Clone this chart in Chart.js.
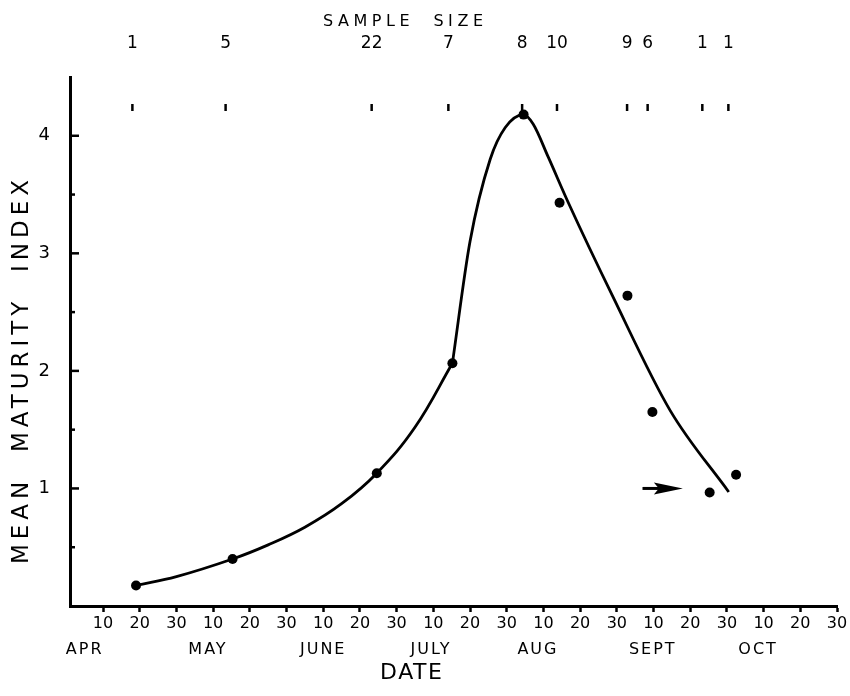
<!DOCTYPE html>
<html><head><meta charset="utf-8">
<script src="https://cdn.jsdelivr.net/npm/chart.js@4/dist/chart.umd.min.js"></script>
<style>html,body{margin:0;padding:0;background:#fff}#c{display:block}</style>
</head><body>
<canvas id="c" width="850" height="696"></canvas>
<script>
// x values are days counted with 30-day months from 1 April (Apr 10 = 10, May 10 = 40, ... Oct 30 = 210)
const sampleDates = [19, 45.3, 84.6, 105.2, 124.6, 134.4, 152.9, 159.7, 175.3, 182.5];
const meanIndex   = [0.175, 0.40, 1.13, 2.065, 4.18, 3.43, 2.64, 1.65, 0.966, 1.116];
const sampleSizes = ['1', '5', '22', '7', '8', '10', '9', '6', '1', '1'];
const sampleTickDates = [18.0, 43.4, 83.2, 104.1, 124.2, 133.7, 152.8, 158.4, 173.3, 180.4];

// fitted curve (two pieces, with a kink at the July point)
const riseX = [19, 30, 45.3, 55, 65, 75, 84.6, 95, 105.2];
const riseY = [0.175, 0.25, 0.40, 0.52, 0.67, 0.87, 1.13, 1.52, 2.065];
const fallX = [105.2, 110, 115.5, 119.6, 124.6, 127.2, 131.3, 136.8, 148.8, 164.6, 180.5];
const fallY = [2.065, 3.1, 3.8, 4.07, 4.18, 4.1, 3.82, 3.43, 2.64, 1.66, 0.97];

const xTickValues = [10,20,30,40,50,60,70,80,90,100,110,120,130,140,150,160,170,180,190,200,210];
const xTickLabels = ['10','20','30','10','20','30','10','20','30','10','20','30','10','20','30','10','20','30','10','20','30'];
const months = ['APR', 'MAY', 'JUNE', 'JULY', 'AUG', 'SEPT', 'OCT'];
const monthCenters = [5, 38.6, 70, 99.4, 128.5, 159.8, 188.5];
const yTickValues = [0.5, 1, 1.5, 2, 2.5, 3, 3.5, 4];
const yTickLabels = ['', '1', '', '2', '', '3', '', '4'];
const arrowX = [157, 168];
const arrowY = [1.0, 1.0];

const FONT = '"DejaVu Sans", sans-serif';

function fitText(ctx, text, x, y, width) {
  ctx.letterSpacing = '0px';
  const w = ctx.measureText(text).width;
  const n = text.length;
  const ls = n > 1 ? (width - w) / (n - 1) : 0;
  ctx.letterSpacing = ls + 'px';
  ctx.textAlign = 'left';
  ctx.fillText(text, x - width / 2, y);
  ctx.letterSpacing = '0px';
}

const decor = {
  id: 'decor',
  afterDraw(chart) {
    const ctx = chart.ctx;
    const xs = chart.scales.x, ys = chart.scales.y;
    const area = chart.chartArea;
    ctx.save();
    ctx.strokeStyle = '#000';
    ctx.fillStyle = '#000';
    // inward y ticks
    ctx.lineWidth = 2.5;
    yTickValues.forEach((v, i) => {
      const py = ys.getPixelForValue(v);
      const len = yTickLabels[i] ? 9 : 5;
      ctx.beginPath();
      ctx.moveTo(area.left, py);
      ctx.lineTo(area.left + len, py);
      ctx.stroke();
    });
    // sample size ticks and labels
    ctx.font = '17px ' + FONT;
    ctx.textAlign = 'center';
    ctx.textBaseline = 'middle';
    sampleTickDates.forEach((d, i) => {
      const px = xs.getPixelForValue(d);
      ctx.beginPath();
      ctx.moveTo(px, 104);
      ctx.lineTo(px, 111);
      ctx.stroke();
      ctx.fillText(sampleSizes[i], px, 44);
    });
    ctx.font = '16px ' + FONT;
    ctx.textBaseline = 'middle';
    fitText(ctx, 'SAMPLE  SIZE', 403, 22, 160);
    // month labels
    ctx.font = '16px ' + FONT;
    months.forEach((m, i) => {
      const px = xs.getPixelForValue(monthCenters[i]);
      ctx.letterSpacing = '2px';
      ctx.textAlign = 'center';
      ctx.fillText(m, px, 650);
    });
    ctx.letterSpacing = '0px';
    // x title
    ctx.font = '22px ' + FONT;
    fitText(ctx, 'DATE', 411, 673, 62);
    // y title
    ctx.save();
    ctx.translate(22, 372);
    ctx.rotate(-Math.PI / 2);
    ctx.font = '23px ' + FONT;
    fitText(ctx, 'MEAN  MATURITY  INDEX', 0, 0, 384);
    ctx.restore();
    // arrow
    const ax0 = xs.getPixelForValue(arrowX[0]);
    const ax1 = xs.getPixelForValue(arrowX[1]);
    const ay = ys.getPixelForValue(arrowY[0]);
    ctx.lineWidth = 3;
    ctx.beginPath();
    ctx.moveTo(ax0, ay);
    ctx.lineTo(ax1 - 20, ay);
    ctx.stroke();
    ctx.beginPath();
    ctx.moveTo(ax1, ay);
    ctx.lineTo(ax1 - 29, ay - 6);
    ctx.lineTo(ax1 - 24, ay);
    ctx.lineTo(ax1 - 29, ay + 6);
    ctx.closePath();
    ctx.fill();
    ctx.restore();
  }
};

new Chart(document.getElementById('c'), {
  type: 'line',
  data: {
    datasets: [
      {
        label: 'Mean maturity index',
        data: sampleDates.map((d, i) => ({ x: d, y: meanIndex[i] })),
        showLine: false,
        pointRadius: 5,
        pointBackgroundColor: '#000',
        pointBorderColor: '#000',
        pointBorderWidth: 0,
        order: 0
      },
      {
        label: 'Curve (rise)',
        data: riseX.map((d, i) => ({ x: d, y: riseY[i] })),
        borderColor: '#000',
        borderWidth: 2.8,
        pointRadius: 0,
        tension: 0.4,
        fill: false,
        order: 1
      },
      {
        label: 'Curve (fall)',
        data: fallX.map((d, i) => ({ x: d, y: fallY[i] })),
        borderColor: '#000',
        borderWidth: 2.8,
        pointRadius: 0,
        cubicInterpolationMode: 'monotone',
        fill: false,
        order: 1
      }
    ]
  },
  options: {
    responsive: false,
    animation: false,
    layout: { padding: { top: 77, right: 13, left: 0, bottom: 0 } },
    plugins: { legend: { display: false }, tooltip: { enabled: false }, title: { display: false } },
    scales: {
      x: {
        type: 'linear',
        min: 1, max: 210,
        afterFit: s => { s.height = 90; },
        afterBuildTicks: s => { s.ticks = xTickValues.map(v => ({ value: v })); },
        grid: { display: true, drawOnChartArea: false, drawTicks: true, tickLength: 6, tickWidth: 2.5, tickColor: '#000' },
        border: { display: true, color: '#000', width: 3 },
        ticks: {
          color: '#000', font: { family: FONT, size: 16 }, padding: 2, maxRotation: 0, autoSkip: false,
          callback: (v, i) => xTickLabels[i]
        }
      },
      y: {
        type: 'linear',
        min: 0, max: 4.5,
        afterFit: s => { s.width = 70; },
        afterBuildTicks: s => { s.ticks = yTickValues.map(v => ({ value: v })); },
        grid: { display: true, drawOnChartArea: false, drawTicks: false },
        border: { display: true, color: '#000', width: 3 },
        ticks: {
          color: '#000', font: { family: FONT, size: 18 }, padding: 20, autoSkip: false,
          callback: (v, i) => yTickLabels[i]
        }
      }
    }
  },
  plugins: [decor]
});
</script>
</body></html>
